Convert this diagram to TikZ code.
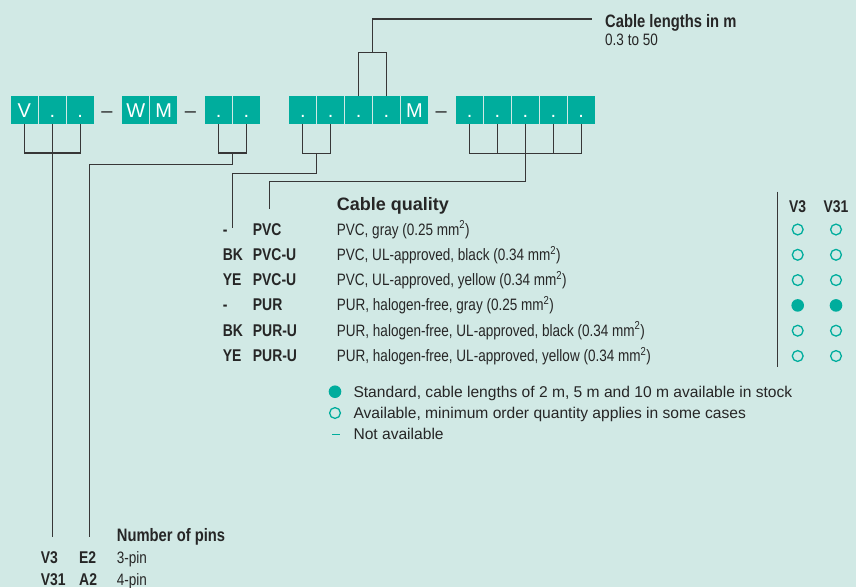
\documentclass[tikz,border=0pt]{standalone}
\usepackage{fontspec}
\setmainfont{Liberation Sans}
\newfontfamily\stretto[FakeStretch=0.82]{Liberation Sans}
\usetikzlibrary{positioning, calc}
\definecolor{sfondo}{RGB}{209,233,229}
\definecolor{verde}{RGB}{0,173,157}
\definecolor{testo}{RGB}{38,38,38}
\definecolor{tratto}{RGB}{55,55,55}

\begin{document}
\begin{tikzpicture}[
  x=1pt, y=-1pt,
  casella/.style={fill=verde, text=white, minimum width=26.8pt, minimum height=27.5pt,
                  inner sep=0pt, text height=15pt, text depth=0pt,
                  font=\fontsize{20}{20}\selectfont},
  trattino/.style={anchor=base, inner sep=0pt, text=testo, font=\fontsize{20}{20}\selectfont},
  linea/.style={draw=tratto, line width=1.2pt},
  titolo/.style={anchor=base west, inner sep=0pt, text=testo, font=\stretto\bfseries\fontsize{18}{18}\selectfont},
  intestazione/.style={anchor=base west, inner sep=0pt, text=testo, font=\bfseries\fontsize{18}{18}\selectfont},
  codice/.style={anchor=base west, inner sep=0pt, text=testo, font=\stretto\bfseries\fontsize{17}{17}\selectfont},
  voce/.style={anchor=base west, inner sep=0pt, text=testo, font=\stretto\fontsize{16.5}{16.5}\selectfont},
  legenda/.style={anchor=base west, inner sep=0pt, text=testo, font=\fontsize{15.6}{15.6}\selectfont},
  pieno/.style={circle, fill=verde, minimum size=12.6pt, inner sep=0pt},
  vuoto/.style={circle, draw=verde, line width=1.3pt, minimum size=10.8pt, inner sep=0pt}
]

% sfondo
\path[use as bounding box, fill=sfondo] (0,0) rectangle (856,587);

% codice di ordinazione
\node[casella] (s1) at (24.4,110)  {V};
\node[casella] (s2) at (52.3,110)  {.};
\node[casella] (s3) at (80.2,110)  {.};
\node[trattino] (t1) at (107,117.5) {–};
\node[casella] (w1) at (135.7,110) {W};
\node[casella] (w2) at (163.6,110) {M};
\node[trattino] (t2) at (190.5,117.5) {–};
\node[casella] (p1) at (218.6,110) {.};
\node[casella] (p2) at (246.5,110) {.};
\node[casella] (c1) at (302.8,110) {.};
\node[casella] (c2) at (330.7,110) {.};
\node[casella] (n1) at (358.6,110) {.};
\node[casella] (n2) at (386.5,110) {.};
\node[casella] (m)  at (414.4,110) {M};
\node[trattino] (t3) at (441.3,117.5) {–};
\node[casella] (q1) at (469.6,110) {.};
\node[casella] (q2) at (497.5,110) {.};
\node[casella] (q3) at (525.4,110) {.};
\node[casella] (q4) at (553.3,110) {.};
\node[casella] (q5) at (581.2,110) {.};

% lunghezza del cavo
\node[titolo] (lunghezza) at (605,27.5) {Cable lengths in m};
\node[voce] (campo) at (605,45.7) {0.3 to 50};
\coordinate (lfine) at (592.3,19);
\draw[linea] (n1.north) -- ++(0,-43.9) -| (n2.north);
\draw[linea] ($(n1.north)!0.5!(n2.north)+(0,-43.9)$) |- (lfine);

% qualita del cavo
\node[intestazione] (qualita) at (336.7,210) {Cable quality};
\node[codice] (k0) at (222.7,235)   {-};
\node[codice] (k1) at (222.7,260.3) {BK};
\node[codice] (k2) at (222.7,285.6) {YE};
\node[codice] (k3) at (222.7,310.9) {-};
\node[codice] (k4) at (222.7,336.2) {BK};
\node[codice] (k5) at (222.7,361.5) {YE};
\node[codice] (r0) at (252.7,235)   {PVC};
\node[codice] (r1) at (252.7,260.3) {PVC-U};
\node[codice] (r2) at (252.7,285.6) {PVC-U};
\node[codice] (r3) at (252.7,310.9) {PUR};
\node[codice] (r4) at (252.7,336.2) {PUR-U};
\node[codice] (r5) at (252.7,361.5) {PUR-U};
\node[voce] (d0) at (336.7,235)   {PVC, gray (0.25 mm\textsuperscript{2})};
\node[voce] (d1) at (336.7,260.3) {PVC, UL-approved, black (0.34 mm\textsuperscript{2})};
\node[voce] (d2) at (336.7,285.6) {PVC, UL-approved, yellow (0.34 mm\textsuperscript{2})};
\node[voce] (d3) at (336.7,310.9) {PUR, halogen-free, gray (0.25 mm\textsuperscript{2})};
\node[voce] (d4) at (336.7,336.2) {PUR, halogen-free, UL-approved, black (0.34 mm\textsuperscript{2})};
\node[voce] (d5) at (336.7,361.5) {PUR, halogen-free, UL-approved, yellow (0.34 mm\textsuperscript{2})};

\coordinate (kfine) at (232.7,228.3);
\coordinate (rfine) at (269.3,209);
\draw[linea] (c1.south) -- ++(0,29.2) -| (c2.south);
\draw[linea] ($(c1.south)!0.5!(c2.south)+(0,29.2)$) -- ++(0,20.3) -| (kfine);
\draw[linea] (q1.south) -- ++(0,29.5) -| (q5.south);
\draw[linea] (q2.south) -- ++(0,29.5);
\draw[linea] (q4.south) -- ++(0,29.5);
\draw[linea] (q3.south) -- ++(0,57.9) -| (rfine);

% disponibilita
\draw[linea, line width=1pt] (777.7,191.7) -- (777.7,366.7);
\node[codice, anchor=base] (v3)  at (797.7,212) {V3};
\node[codice, anchor=base] (v31) at (836,212)   {V31};
\node[vuoto] (a0) at (797.7,229.5) {}; \node[vuoto] (b0) at (836,229.5) {};
\node[vuoto] (a1) at (797.7,254.8) {}; \node[vuoto] (b1) at (836,254.8) {};
\node[vuoto] (a2) at (797.7,280.1) {}; \node[vuoto] (b2) at (836,280.1) {};
\node[pieno] (a3) at (797.7,305.4) {}; \node[pieno] (b3) at (836,305.4) {};
\node[vuoto] (a4) at (797.7,330.7) {}; \node[vuoto] (b4) at (836,330.7) {};
\node[vuoto] (a5) at (797.7,356)   {}; \node[vuoto] (b5) at (836,356)   {};

% legenda
\node[pieno] (lg1) at (335,391.7) {};
\node[vuoto] (lg2) at (335,413) {};
\draw[verde, line width=1.5pt] (332.3,434.3) -- (339.7,434.3);
\node[legenda] (lt1) at (353.3,397.3) {Standard, cable lengths of 2 m, 5 m and 10 m available in stock};
\node[legenda] (lt2) at (353.3,418.3) {Available, minimum order quantity applies in some cases};
\node[legenda] (lt3) at (353.3,439)   {Not available};

% numero di poli
\node[titolo] (poli) at (116.7,541.7) {Number of pins};
\node[codice] (e0) at (40.7,563.3) {V3};
\node[codice] (e1) at (40.7,585)   {V31};
\node[codice] (f0) at (79,563.3)   {E2};
\node[codice] (f1) at (79,585)     {A2};
\node[voce] (g0) at (116.7,563.3) {3-pin};
\node[voce] (g1) at (116.7,585)   {4-pin};

\coordinate (vfine) at (52.3,537);
\coordinate (efine) at (89.3,537);
\draw[linea] (s1.south) -- ++(0,29) -| (s3.south);
\draw[linea] (s2.south) -- (vfine);
\draw[linea] (p1.south) -- ++(0,29) -| (p2.south);
\draw[linea] ($(p1.south)!0.5!(p2.south)+(0,29)$) -- ++(0,11.3) -| (efine);

\end{tikzpicture}
\end{document}
